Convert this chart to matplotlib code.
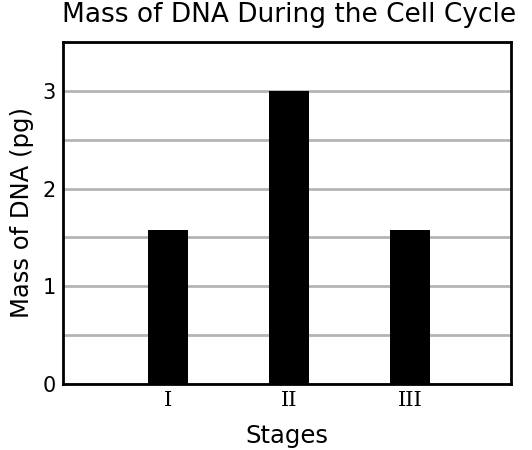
import matplotlib
matplotlib.use("Agg")
import matplotlib.pyplot as plt

stages = ["I", "II", "III"]
dna_mass = [1.58, 3.0, 1.58]

fig = plt.figure(figsize=(5.32, 4.5), dpi=100)
ax = fig.add_axes([0.1184, 0.1467, 0.8421, 0.76])

xpos = [1, 2, 3]
ax.bar(xpos, dna_mass, width=0.33, color="black", zorder=3)

ax.set_xlim(0.13, 3.835)
ax.set_ylim(0, 3.5)
ax.set_yticks([0, 1, 2, 3])
ax.set_yticks([0.5, 1.5, 2.5, 3.5], minor=True)
ax.grid(axis="y", which="both", color="#b4b4b4", linewidth=2, zorder=0)
ax.tick_params(axis="y", which="both", length=0, labelsize=15, pad=5)

ax.set_xticks(xpos)
ax.set_xticklabels(stages, family="DejaVu Serif", fontsize=15)
ax.tick_params(axis="x", length=0, pad=5)

for s in ax.spines.values():
    s.set_linewidth(2)
    s.set_zorder(4)

ax.set_xlabel("Stages", fontsize=17.5, labelpad=10)
ax.set_ylabel("Mass of DNA (pg)", fontsize=17.5, labelpad=6)
fig.text(289 / 532, 1 - 22 / 450, "Mass of DNA During the Cell Cycle",
         fontsize=19, ha="center", va="baseline")

fig.savefig("out.png", dpi=100)
